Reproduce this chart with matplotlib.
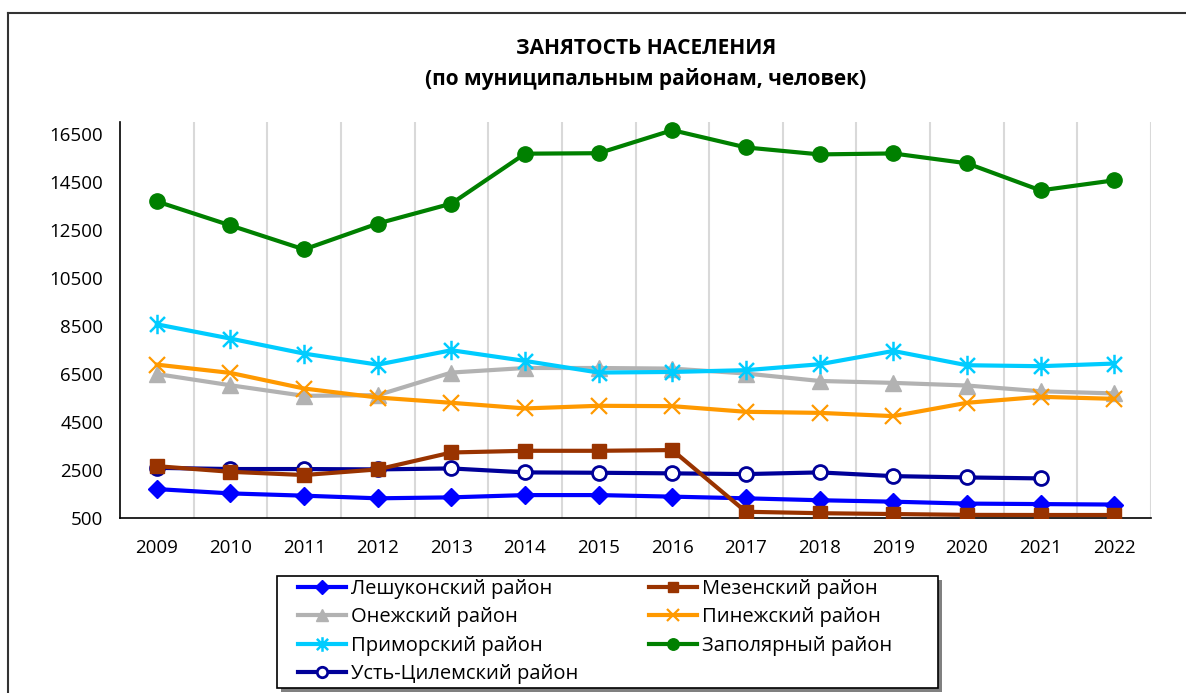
import matplotlib
matplotlib.use("Agg")
import matplotlib.pyplot as plt
from matplotlib.path import Path
from matplotlib.lines import Line2D
from matplotlib.patches import Rectangle

plt.rcParams['font.family'] = ['Open Sans', 'DejaVu Sans']

years = [2009, 2010, 2011, 2012, 2013, 2014, 2015, 2016, 2017, 2018, 2019, 2020, 2021, 2022]
year_labels = [str(y) for y in years]

leshukonsky = [1705, 1525, 1430, 1320, 1360, 1455, 1455, 1390, 1320, 1240, 1180, 1100, 1080, 1060]
mezensky = [2660, 2425, 2290, 2525, 3230, 3300, 3300, 3330, 760, 700, 665, 630, 625, 625]
onezhsky = [6500, 6030, 5590, 5620, 6560, 6750, 6750, 6725, 6520, 6210, 6130, 6020, 5780, 5690]
pinezhsky = [6890, 6545, 5895, 5520, 5300, 5065, 5175, 5160, 4925, 4880, 4745, 5300, 5550, 5465]
primorsky = [8570, 7975, 7350, 6890, 7490, 7045, 6560, 6585, 6660, 6905, 7460, 6865, 6825, 6935]
zapolyarny = [13690, 12690, 11690, 12770, 13600, 15680, 15700, 16660, 15940, 15650, 15690, 15280, 14150, 14570]
ust_tsilemsky = [2590, 2540, 2540, 2525, 2565, 2400, 2385, 2360, 2330, 2400, 2245, 2190, 2150]

yticks = list(range(500, 16501, 2000))

title = "ЗАНЯТОСТЬ НАСЕЛЕНИЯ\n(по муниципальным районам, человек)"

# asterisk marker (x + vertical bar)
ast = Path([(-1, -1), (1, 1), (-1, 1), (1, -1), (0, -1.3), (0, 1.3)],
           [Path.MOVETO, Path.LINETO, Path.MOVETO, Path.LINETO, Path.MOVETO, Path.LINETO])

W, H = 1186, 693
fig = plt.figure(figsize=(W / 100, H / 100), dpi=100)
ax = fig.add_axes([120 / W, 1 - 518 / H, (1151 - 120) / W, (518 - 122) / H])

x = list(range(len(years)))
lw = 3.0
series = [
    ("Лешуконский район", leshukonsky, dict(color='#0000FF', marker='D', ms=9, mfc='#0000FF', mec='#0000FF')),
    ("Онежский район", onezhsky, dict(color='#B2B2B2', marker='^', ms=11, mfc='#B2B2B2', mec='#B2B2B2')),
    ("Приморский район", primorsky, dict(color='#00CCFF', marker=ast, ms=14, mec='#00CCFF', mew=1.8)),
    ("Усть-Цилемский район", ust_tsilemsky, dict(color='#000099', marker='o', ms=10, mfc='white', mec='#000099', mew=2)),
    ("Мезенский район", mezensky, dict(color='#993300', marker='s', ms=10, mfc='#993300', mec='#993300')),
    ("Пинежский район", pinezhsky, dict(color='#FF9900', marker='x', ms=11, mec='#FF9900', mew=1.6)),
    ("Заполярный район", zapolyarny, dict(color='#008000', marker='o', ms=11, mfc='#008000', mec='#008000')),
]
draw_order = [6, 2, 1, 5, 4, 3, 0]
handles = {}
for i in draw_order:
    name, vals, st = series[i]
    h, = ax.plot(x[:len(vals)], vals, lw=lw, label=name, zorder=3 + i * 0.1, **st)
    handles[i] = h

ax.set_xlim(-0.5, len(years) - 0.5)
ax.set_ylim(500, 17000)
ax.set_yticks(yticks)
ax.set_yticklabels([str(v) for v in yticks])
ax.set_xticks(x)
ax.set_xticklabels(year_labels)
ax.tick_params(axis='both', length=0, labelsize=13.5, colors='black')
ax.tick_params(axis='y', pad=12)
ax.tick_params(axis='x', pad=15)
for b in [i + 0.5 for i in range(len(years))]:
    ax.axvline(b, color='#D9D9D9', lw=1.5, zorder=1)
ax.spines['top'].set_visible(False)
ax.spines['right'].set_visible(False)
for s in ('left', 'bottom'):
    ax.spines[s].set_color('black')
    ax.spines[s].set_linewidth(1.2)

fig.text(646 / W, 1 - 64 / H, title, ha='center', va='center', fontsize=15,
         fontweight='bold', linespacing=1.55)

# legend box with shadow
lx0, lx1, ly0, ly1 = 277, 938, 576, 688
fig.add_artist(Rectangle(((lx0 + 4) / W, 1 - (ly1 + 4) / H), (lx1 - lx0) / W, (ly1 - ly0) / H,
                         transform=fig.transFigure, facecolor='#808080', edgecolor='none', zorder=1))
fig.add_artist(Rectangle((lx0 / W, 1 - ly1 / H), (lx1 - lx0) / W, (ly1 - ly0) / H,
                         transform=fig.transFigure, facecolor='white', edgecolor='black', lw=1.2, zorder=2))

leg = fig.legend([handles[i] for i in range(7)], [series[i][0] for i in range(7)],
                 loc='upper left', bbox_to_anchor=(298 / W, 1 - 579 / H),
                 ncol=2, fontsize=14.5, frameon=False,
                 borderpad=0, labelspacing=0.42, handlelength=2.4, handletextpad=0.25,
                 columnspacing=3.5, borderaxespad=0)
leg.set_zorder(3)
for lh in leg.legend_handles:
    lh.set_markersize(lh.get_markersize() * 0.75)

# outer frame (partially visible chart border)
fig.add_artist(Line2D([8 / W, 8 / W], [0, 1 - 13 / H], transform=fig.transFigure, color='#333333', lw=1.5))
fig.add_artist(Line2D([8 / W, 1], [1 - 13 / H, 1 - 13 / H], transform=fig.transFigure, color='#333333', lw=1.5))

fig.savefig("out.png", dpi=100)
